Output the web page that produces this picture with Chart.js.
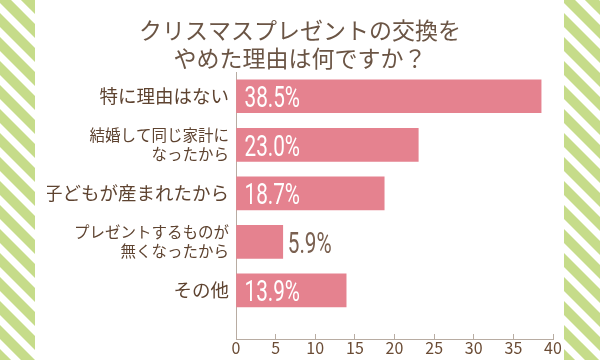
<!DOCTYPE html>
<html>
<head>
<meta charset="utf-8">
<script src="https://cdn.jsdelivr.net/npm/chart.js@4"></script>
<style>
  html, body { margin: 0; padding: 0; background: #fff; }
  #wrap { width: 600px; height: 360px; }
</style>
</head>
<body>
<div id="wrap"><canvas id="chart" width="600" height="360"></canvas></div>
<script>
// data
var titleLines = ['クリスマスプレゼントの交換を', 'やめた理由は何ですか？']
var categories = [
	['特に理由はない'],
	['結婚して同じ家計に', 'なったから'],
	['子どもが産まれたから'],
	['プレゼントするものが', '無くなったから'],
	['その他'],
]
var values = [38.5, 23.0, 18.7, 5.9, 13.9]
var xMin = 0
var xMax = 40
var xStep = 5

var brown = '#5e4330'
var barColor = '#e5828f'
var axisColor = '#b8aca2'
var jp = '"Noto Sans CJK JP", "Noto Sans", sans-serif'

// green diagonal stripes on both sides
var stripes = {
	id: 'stripes',
	beforeDraw: function (chart) {
		var ctx = chart.ctx
		ctx.save()
		ctx.fillStyle = '#fff'
		ctx.fillRect(0, 0, chart.width, chart.height)
		var bands = [[0, 35], [564, 600]]
		bands.forEach(function (b) {
			ctx.save()
			ctx.beginPath()
			ctx.rect(b[0], 0, b[1] - b[0], chart.height)
			ctx.clip()
			ctx.strokeStyle = '#c6dc8a'
			ctx.lineWidth = 10
			for (var x0 = b[0] - chart.height - 30; x0 < b[1] + 30; x0 += 24) {
				ctx.beginPath()
				ctx.moveTo(x0, -10)
				ctx.lineTo(x0 + chart.height + 20, chart.height + 10)
				ctx.stroke()
			}
			ctx.restore()
		})
		ctx.restore()
	},
}

// percent labels, inside the bar if it fits
var valueLabels = {
	id: 'valueLabels',
	afterDatasetsDraw: function (chart) {
		var ctx = chart.ctx
		var meta = chart.getDatasetMeta(0)
		ctx.save()
		ctx.font = '30px Roboto'
		ctx.textBaseline = 'alphabetic'
		meta.data.forEach(function (bar, i) {
			var txt = values[i].toFixed(1) + '%'
			var sx = 0.69
			var w = ctx.measureText(txt).width * sx
			var inside = (bar.x - bar.base) > w + 14
			var x = inside ? bar.base + 8 : bar.x + 5
			ctx.fillStyle = inside ? '#fff' : '#7a6050'
			ctx.save()
			ctx.translate(x, bar.y + 11)
			ctx.scale(sx, 1)
			ctx.fillText(txt, 0, 0)
			ctx.restore()
		})
		ctx.restore()
	},
}

var catFontSizes = categories.map(function (c) { return c.length > 1 ? 15.5 : 18.5 })

var chart = new Chart(document.getElementById('chart'), {
	type: 'bar',
	data: {
		datasets: [{
			data: values.map(function (v, i) { return { x: v, y: i } }),
			backgroundColor: barColor,
			borderWidth: 0,
			barThickness: 33,
		}],
	},
	options: {
		indexAxis: 'y',
		responsive: false,
		animation: false,
		layout: { padding: { left: 47, right: 47, top: 0, bottom: 0 } },
		plugins: {
			legend: { display: false },
			tooltip: { enabled: false },
			title: {
				display: true,
				text: titleLines,
				color: '#6b5545',
				font: { family: jp, size: 23, weight: 'normal', lineHeight: 28 / 23 },
				padding: { top: 16, bottom: 0 },
			},
		},
		scales: {
			x: {
				type: 'linear',
				min: xMin,
				max: xMax,
				ticks: { stepSize: xStep, color: '#6b4c35', font: { family: jp, size: 16 }, padding: 4, maxRotation: 0 },
				grid: { drawOnChartArea: false, drawTicks: true, tickLength: -5, color: axisColor, lineWidth: 1 },
				border: { color: axisColor, width: 1 },
				afterFit: function (s) { s.height = 21 },
			},
			y: {
				type: 'linear',
				reverse: true,
				offset: false,
				min: -0.5,
				max: 5,
				afterBuildTicks: function (s) {
					s.ticks = categories.map(function (c, i) { return { value: i } })
				},
				ticks: {
					autoSkip: false,
					color: brown,
					padding: 7,
					callback: function (v) { return categories[v] },
					font: function (c) {
						var size = catFontSizes[c.index] || 16
						return { family: jp, size: size, lineHeight: 19 / size }
					},
				},
				grid: { display: false, drawTicks: false },
				border: { color: axisColor, width: 1 },
				afterFit: function (s) { s.width = 236 - 47 },
			},
		},
	},
	plugins: [stripes, valueLabels],
})
</script>
</body>
</html>
